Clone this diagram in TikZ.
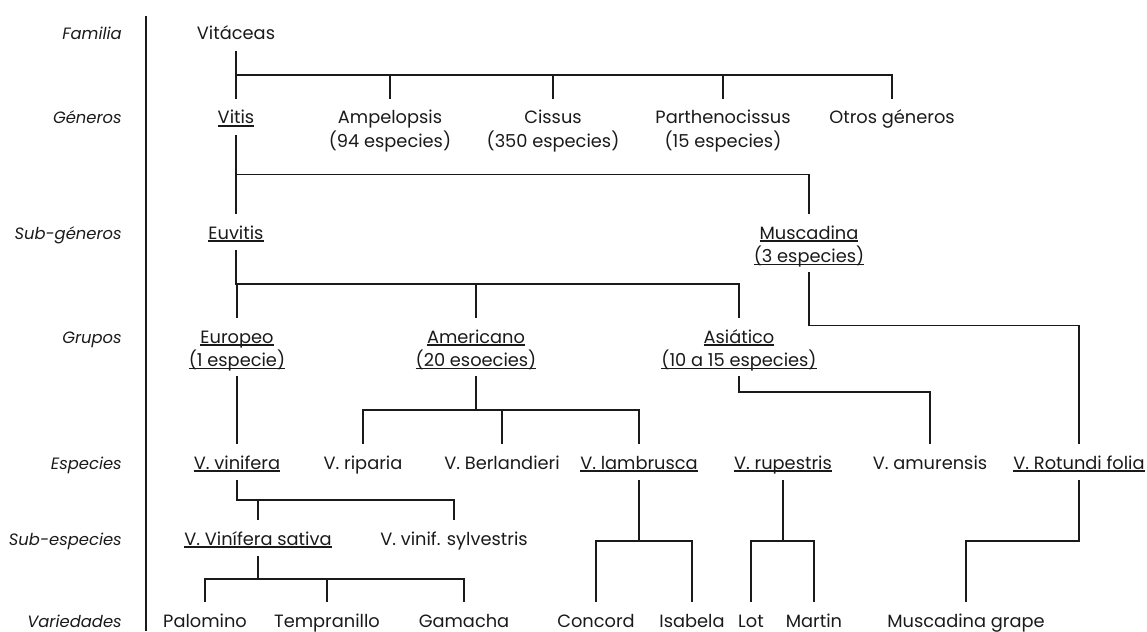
\documentclass[tikz,border=0pt]{standalone}
\usepackage{fontspec}
\setmainfont{Poppins}
\usetikzlibrary{calc}
\definecolor{ink}{HTML}{1A1A1A}
% underline at a fixed depth below the baseline, crossing descenders
\newcommand\undl[1]{\setbox0\hbox{#1}\rlap{\rule[-2.8pt]{\wd0}{1.5pt}}\box0}
% two centred lines whose baseline is the first line
\newcommand\twoline[2]{\begin{tabular}[t]{@{}c@{}}#1\\#2\end{tabular}}
\begin{document}
\begin{tikzpicture}[x=1pt,y=-1pt,
  taxon/.style={anchor=base, inner sep=0pt, text height=25pt, text depth=11pt,
                font=\fontsize{17.8}{22}\selectfont, text=ink},
  taxontwo/.style={taxon, text depth=33pt},
  rank/.style={anchor=base east, inner sep=0pt,
               font=\fontsize{16.4}{22}\selectfont\itshape, text=ink},
  link/.style={draw=ink, line width=1.3pt},
  trunk/.style={draw=ink, line width=2.4pt},
  elbow/.style={to path={|- ($(\tikztostart)!#1!(\tikztotarget)$) -| (\tikztotarget)}},
  elbow/.default=0.5]
\useasboundingbox (0,0) rectangle (1147,631);

% rank names and separator
\node[rank] (rFam) at (122,40)  {Familia};
\node[rank] (rGen) at (122,124) {Géneros};
\node[rank] (rSub) at (122,239) {Sub-géneros};
\node[rank] (rGru) at (122,343) {Grupos};
\node[rank] (rEsp) at (122,469) {Especies};
\node[rank] (rSes) at (122,545) {Sub-especies};
\node[rank] (rVar) at (122,627) {Variedades};
\coordinate (sepTop) at (146,16);
\coordinate (sepBot) at (146,631);
\draw[link] (sepTop) -- (sepBot);

% family and genera
\node[taxon] (vitaceas) at (236,40) {Vitáceas};
\node[taxon] (vitis) at (236,124) {\undl{Vitis}};
\node[taxontwo] (ampelopsis) at (390,124) {\twoline{Ampelopsis}{(94 especies)}};
\node[taxontwo] (cissus) at (553,124) {\twoline{Cissus}{(350 especies)}};
\node[taxontwo] (partheno) at (723,124) {\twoline{Parthenocissus}{(15 especies)}};
\node[taxon] (otros) at (892,124) {Otros géneros};

% sub-genera
\node[taxon] (euvitis) at (236,239) {\undl{Euvitis}};
\node[taxontwo] (muscadina) at (809,239) {\twoline{\undl{Muscadina}}{\undl{(3 especies)}}};

% groups
\node[taxontwo] (europeo) at (237,343) {\twoline{\undl{Europeo}}{\undl{(1 especie)}}};
\node[taxontwo] (americano) at (476,343) {\twoline{\undl{Americano}}{\undl{(20 esoecies)}}};
\node[taxontwo] (asiatico) at (739,343) {\twoline{\undl{Asiático}}{\undl{(10 a 15 especies)}}};

% species
\node[taxon] (vinifera) at (237,469) {\undl{V. vinifera}};
\node[taxon] (riparia) at (363,469) {V. riparia};
\node[taxon] (berlandieri) at (502,469) {V. Berlandieri};
\node[taxon] (lambrusca) at (639,469) {\undl{V. lambrusca}};
\node[taxon] (rupestris) at (783,469) {\undl{V. rupestris}};
\node[taxon] (amurensis) at (930,469) {V. amurensis};
\node[taxon] (rotundi) at (1079,469) {\undl{V. Rotundi folia}};

% sub-species
\node[taxon] (sativa) at (258,545) {\undl{V. Vinífera sativa}};
\node[taxon] (sylvestris) at (454,545) {V. vinif. sylvestris};

% varieties
\node[taxon] (palomino) at (205,627) {Palomino};
\node[taxon] (tempranillo) at (327,627) {Tempranillo};
\node[taxon] (gamacha) at (464,627) {Gamacha};
\node[taxon] (concord) at (596,627) {Concord};
\node[taxon] (isabela) at (692,627) {Isabela};
\node[taxon] (lot) at (751,627) {Lot};
\node[taxon] (martin) at (814,627) {Martin};
\node[taxon] (grape) at (966,627) {Muscadina grape};

% heavier stems above some bars
\coordinate (barFam) at ($(vitaceas.south)!0.5!(vitis.north)$);
\coordinate (barEuv) at ($(euvitis.south)!0.5!(europeo.north)$);
\coordinate (barAme) at ($(americano.south)!0.5!(riparia.north)$);
\coordinate (barSat) at ($(sativa.south)!0.5!(palomino.north)$);
\draw[trunk] (vitaceas.south) -- (vitaceas.south |- barFam);
\draw[trunk] (euvitis.south) -- (euvitis.south |- barEuv);
\draw[trunk] (americano.south) -- (americano.south |- barAme);
\draw[trunk] (sativa.south) -- (sativa.south |- barSat);

% tree connectors
\path[link] (vitaceas.south) edge[elbow] (vitis.north)
                             edge[elbow] (ampelopsis.north)
                             edge[elbow] (cissus.north)
                             edge[elbow] (partheno.north)
                             edge[elbow] (otros.north);
\path[link] (vitis.south) edge[elbow] (euvitis.north)
                          edge[elbow] (muscadina.north);
\path[link] (euvitis.south) edge[elbow] (europeo.north)
                            edge[elbow] (americano.north)
                            edge[elbow] (asiatico.north);
\path[link] (muscadina.south) edge[elbow=0.31] (rotundi.north);
\path[link] (europeo.south) edge[elbow] (vinifera.north);
\path[link] (americano.south) edge[elbow] (riparia.north)
                              edge[elbow] (berlandieri.north)
                              edge[elbow] (lambrusca.north);
\path[link] (asiatico.south) edge[elbow=0.235] (amurensis.north);
\path[link] (vinifera.south) edge[elbow] (sativa.north)
                             edge[elbow] (sylvestris.north);
\path[link] (sativa.south) edge[elbow] (palomino.north)
                           edge[elbow] (tempranillo.north)
                           edge[elbow] (gamacha.north);
\path[link] (lambrusca.south) edge[elbow] (concord.north)
                              edge[elbow] (isabela.north);
\path[link] (rupestris.south) edge[elbow] (lot.north)
                              edge[elbow] (martin.north);
\path[link] (rotundi.south) edge[elbow] (grape.north);
\end{tikzpicture}
\end{document}
